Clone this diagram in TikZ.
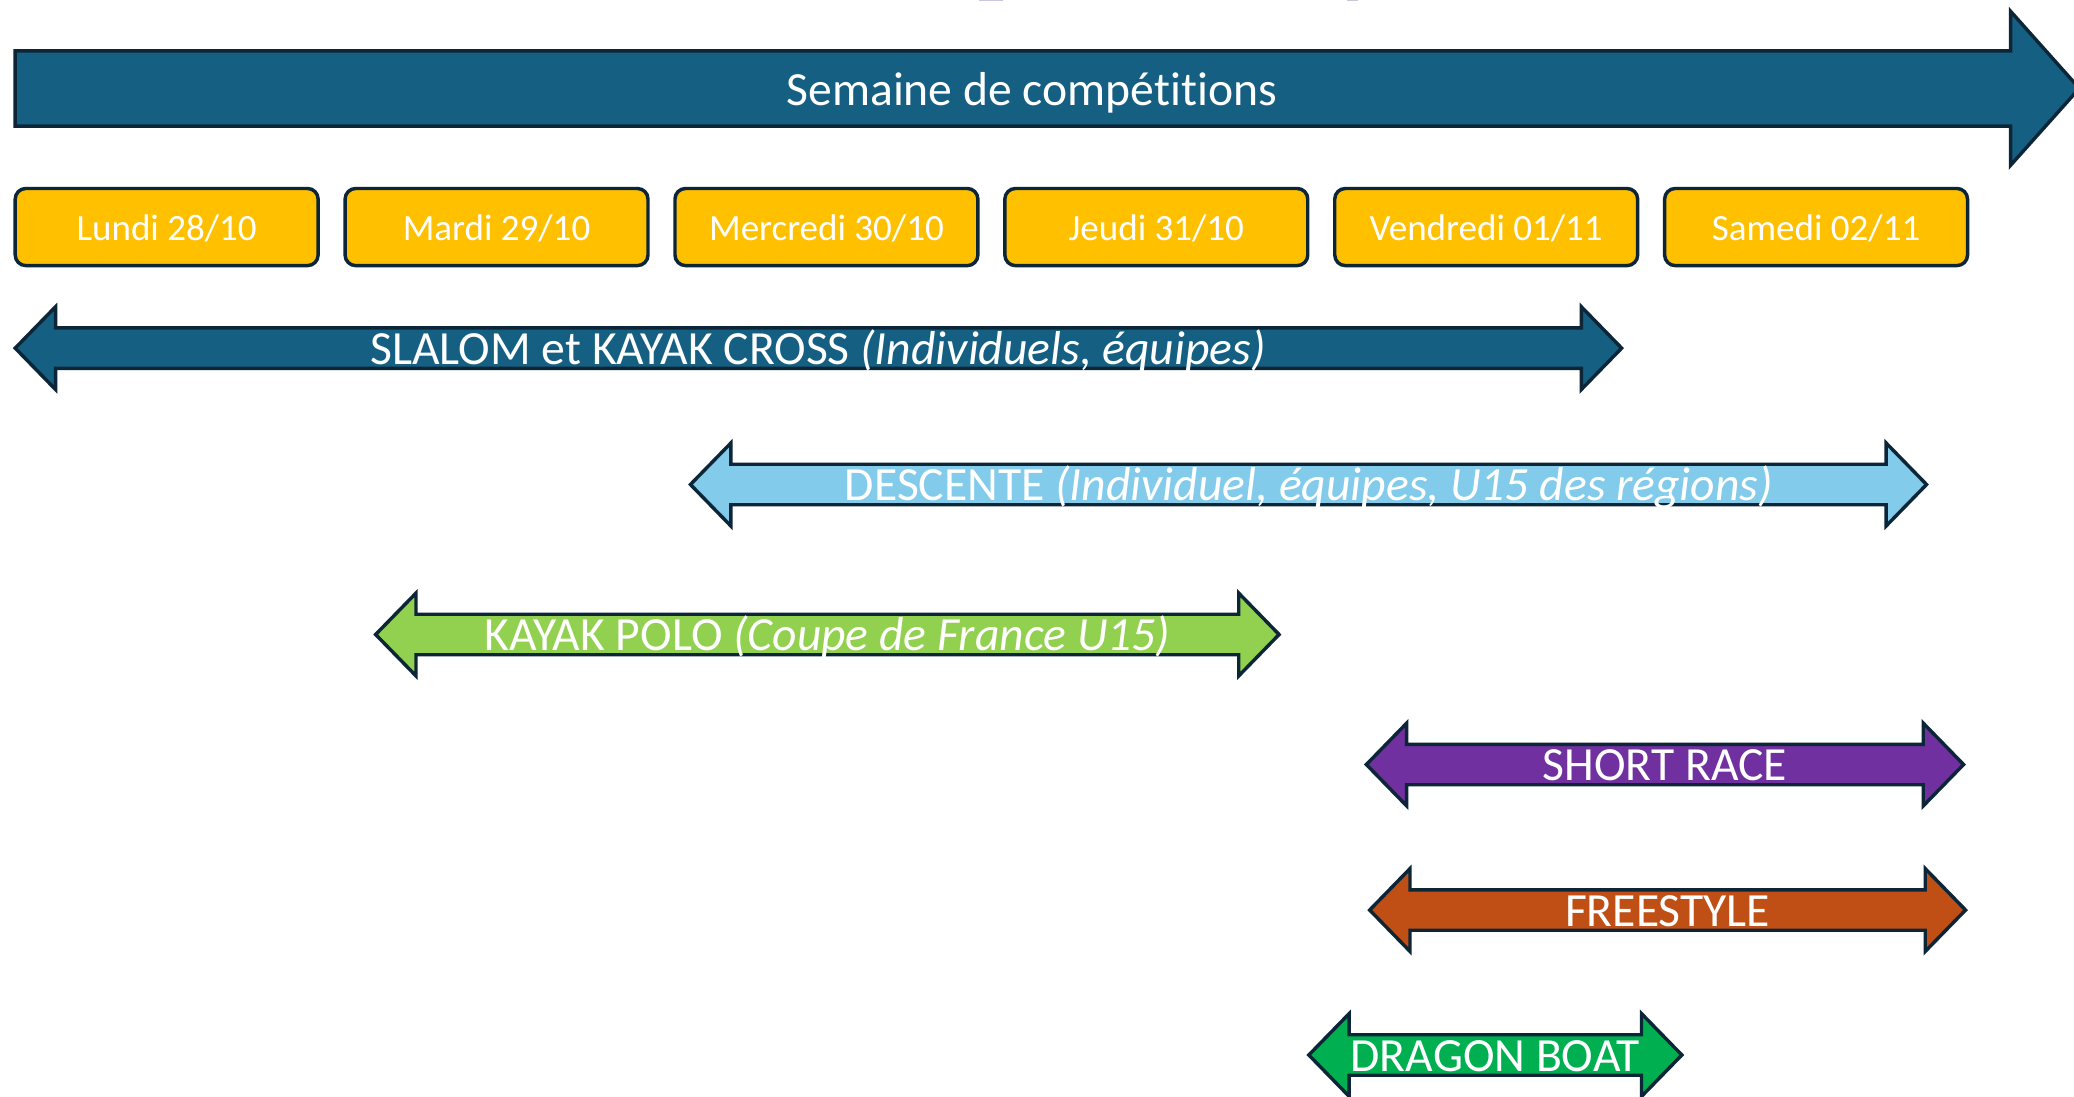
\documentclass[tikz,border=0pt]{standalone}
\usepackage{fontspec}
\setmainfont{Carlito}[Ligatures=NoCommon]
\definecolor{outl}{HTML}{0C2638}
\definecolor{mainblue}{HTML}{156082}
\definecolor{dayfill}{HTML}{FFC000}
\definecolor{lightblue}{HTML}{83CBEB}
\definecolor{polo}{HTML}{92D050}
\definecolor{purp}{HTML}{7030A0}
\definecolor{fstyle}{HTML}{C04F15}
\definecolor{dragon}{HTML}{00B050}
\definecolor{frag}{HTML}{C8C8DC}
\tikzset{
  shapeline/.style={draw=outl, line width=1.3pt, line join=miter},
  daybox/.style={shapeline, fill=dayfill, rounded corners=4pt},
  lbl/.style={text=white, anchor=base, inner sep=0pt, font=\fontsize{18}{20}\selectfont},
  daylbl/.style={text=white, anchor=base, inner sep=0pt, font=\fontsize{14}{16}\selectfont},
}
% #1 left tip x, #2 right tip x, #3 centre y, #4 fill colour
\newcommand\dblarr[4]{%
  \draw[shapeline, fill=#4] ({#1},{#3}) -- ({#1+30.5},{#3-31.3}) -- ({#1+30.5},{#3-15.3})
    -- ({#2-30.5},{#3-15.3}) -- ({#2-30.5},{#3-31.3}) -- ({#2},{#3})
    -- ({#2-30.5},{#3+31.3}) -- ({#2-30.5},{#3+15.3}) -- ({#1+30.5},{#3+15.3})
    -- ({#1+30.5},{#3+31.3}) -- cycle;}
\begin{document}
\begin{tikzpicture}[x=0.5pt, y=-0.5pt]
\useasboundingbox (0,0) rectangle (1568,829);
\fill[white] (0,0) rectangle (1568,829);
% fragments of cut-off title
\fill[frag] (740,0) rectangle (758,1.1);
\fill[frag] (1018,0) rectangle (1027,1.1);
% main arrow
\draw[shapeline, fill=mainblue] (11.5,38.5) -- (1520,38.5) -- (1520,8.5) -- (1572,66.8)
  -- (1520,125) -- (1520,95.3) -- (11.5,95.3) -- cycle;
\node[lbl] (week) at (780,79.8) {Semaine de compétitions};
% days
\foreach \i/\d in {0/Lundi 28\slash 10,1/Mardi 29\slash 10,2/Mercredi 30\slash 10,3/Jeudi 31\slash 10,4/Vendredi 01\slash 11,5/Samedi 02\slash 11}{
  \pgfmathsetmacro\xa{11.5+249.4*\i}
  \draw[daybox] (\xa,142.5) rectangle ({\xa+229},200.8);
  \node[daylbl] (day\i) at ({\xa+114.5},182) {\d};
}
% event arrows
\dblarr{11.5}{1226}{263.2}{mainblue}
\node[lbl] (slalom) at (618.5,275.3) {SLALOM et KAYAK CROSS \textit{(Individuels, équipes)}};
\dblarr{522}{1456.5}{366.3}{lightblue}
\node[lbl] (descente) at (989.5,378.4) {DESCENTE \textit{(Individuel, équipes, U15 des régions)}};
\dblarr{284}{967}{479.7}{polo}
\node[lbl] (polo) at (625.5,491.8) {KAYAK POLO \textit{(Coupe de France U15)}};
\dblarr{1033}{1484.5}{578}{purp}
\node[lbl] (short) at (1258.7,590.1) {SHORT RACE};
\dblarr{1035.5}{1486}{688}{fstyle}
\node[lbl] (free) at (1260.7,700.1) {FREESTYLE};
\dblarr{989.5}{1271.5}{797.6}{dragon}
\node[lbl] (dragon) at (1130.5,809.7) {DRAGON BOAT};
\end{tikzpicture}
\end{document}
